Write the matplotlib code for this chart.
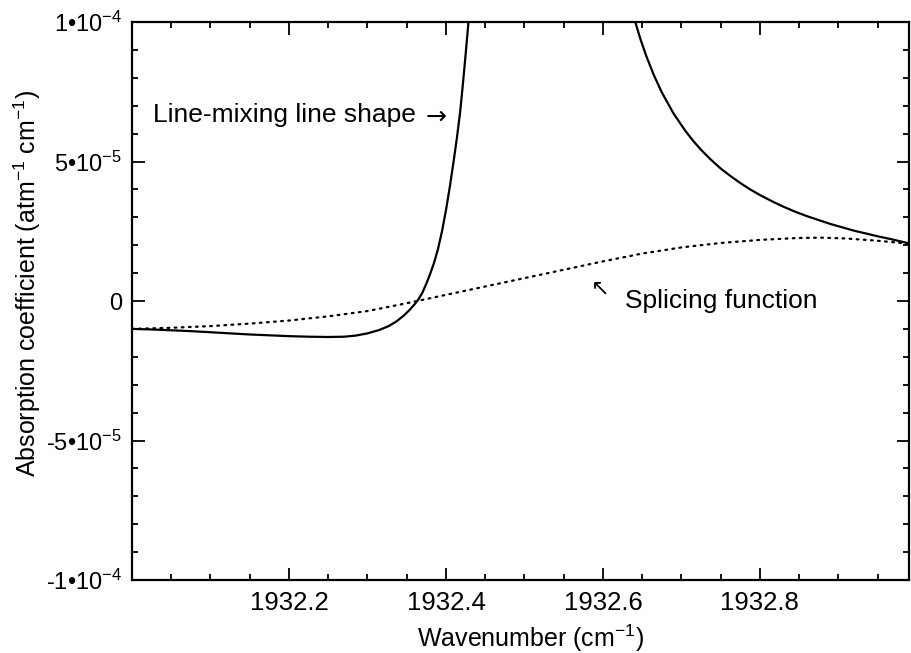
import numpy as np
import matplotlib
matplotlib.use("Agg")
import matplotlib.pyplot as plt
from matplotlib.ticker import MultipleLocator, FixedLocator, FixedFormatter

plt.rcParams['font.family'] = ['Liberation Sans', 'DejaVu Sans']
plt.rcParams['mathtext.fontset'] = 'custom'
plt.rcParams['mathtext.rm'] = 'Liberation Sans'
plt.rcParams['mathtext.it'] = 'Liberation Sans:italic'
plt.rcParams['mathtext.bf'] = 'Liberation Sans:bold'

# datos (x - 1932 en cm^-1, y en unidades de 1e-5 atm^-1 cm^-1)
mix_left_x = [0.000, 0.025, 0.050, 0.075, 0.100, 0.125, 0.150, 0.175, 0.200, 0.225,
              0.250, 0.270, 0.285, 0.300, 0.315, 0.327, 0.337, 0.346, 0.354, 0.360,
              0.365, 0.370, 0.375, 0.380, 0.385, 0.390, 0.395, 0.400, 0.405, 0.410,
              0.414, 0.418, 0.421, 0.424, 0.427, 0.429, 0.431]
mix_left_y = [-1.00, -1.02, -1.05, -1.08, -1.12, -1.16, -1.20, -1.23, -1.26, -1.28,
              -1.29, -1.28, -1.24, -1.16, -1.04, -0.90, -0.73, -0.53, -0.31, -0.12,
              0.06, 0.30, 0.62, 0.98, 1.38, 1.88, 2.50, 3.25, 4.10, 5.05,
              5.85, 6.75, 7.60, 8.50, 9.45, 10.10, 10.80]

mix_right_x = [0.636, 0.641, 0.648, 0.655, 0.665, 0.675, 0.690, 0.705, 0.715, 0.725,
               0.737, 0.750, 0.762, 0.775, 0.787, 0.800, 0.815, 0.830, 0.845, 0.860,
               0.875, 0.890, 0.905, 0.920, 0.935, 0.950, 0.965, 0.991]
mix_right_y = [10.54, 10.02, 9.37, 8.80, 8.09, 7.48, 6.72, 6.10, 5.74, 5.42,
               5.08, 4.75, 4.49, 4.23, 4.01, 3.80, 3.58, 3.38, 3.20, 3.04,
               2.90, 2.76, 2.64, 2.52, 2.42, 2.32, 2.23, 2.06]

splice_x = [0.00, 0.05, 0.10, 0.15, 0.20, 0.25, 0.30, 0.35, 0.40, 0.45, 0.50,
            0.55, 0.60, 0.65, 0.70, 0.75, 0.80, 0.85, 0.88, 0.91, 0.95, 0.991]
splice_y = [-1.00, -0.96, -0.90, -0.81, -0.70, -0.55, -0.36, -0.08, 0.22, 0.52, 0.82,
            1.12, 1.42, 1.70, 1.92, 2.08, 2.19, 2.26, 2.27, 2.24, 2.16, 2.05]

x0 = 1932.0
ytick_vals = [-1e-4, -5e-5, 0, 5e-5, 1e-4]
ytick_labels = ['-1\u202210$^{-4}$', '-5\u202210$^{-5}$', '0',
                '5\u202210$^{-5}$', '1\u202210$^{-4}$']
xtick_vals = [1932.2, 1932.4, 1932.6, 1932.8]
xtick_labels = ['1932.2', '1932.4', '1932.6', '1932.8']

fig = plt.figure(figsize=(9.11, 6.53), dpi=100)
ax = fig.add_axes([132 / 911, 1 - 580 / 653, 777 / 911, 558 / 653])

ax.plot(x0 + np.array(mix_left_x), np.array(mix_left_y) * 1e-5, color='black', lw=1.6)
ax.plot(x0 + np.array(mix_right_x), np.array(mix_right_y) * 1e-5, color='black', lw=1.6)
ax.plot(x0 + np.array(splice_x), np.array(splice_y) * 1e-5, color='black', lw=1.6,
        linestyle=(0, (0.8, 2.4)), dash_capstyle='round')

ax.set_xlim(1932.0, 1932.99)
ax.set_ylim(-1e-4, 1e-4)

ax.xaxis.set_major_locator(FixedLocator(xtick_vals))
ax.xaxis.set_major_formatter(FixedFormatter(xtick_labels))
ax.xaxis.set_minor_locator(MultipleLocator(0.05))
ax.yaxis.set_major_locator(FixedLocator(ytick_vals))
ax.yaxis.set_major_formatter(FixedFormatter(ytick_labels))
ax.yaxis.set_minor_locator(MultipleLocator(1e-5))

ax.tick_params(which='both', direction='in', top=True, right=True, width=1.3)
ax.tick_params(which='major', length=9)
ax.tick_params(which='minor', length=4.5)
ax.tick_params(axis='x', which='major', pad=8, labelsize=18.5)
ax.tick_params(axis='y', which='major', pad=7, labelsize=17)
for s in ax.spines.values():
    s.set_linewidth(1.6)

ax.set_xlabel('Wavenumber (cm$^{-1}$)', fontsize=18)
ax.xaxis.set_label_coords(0.513, -0.077)
ax.set_ylabel('Absorption coefficient (atm$^{-1}$ cm$^{-1}$)', fontsize=18)
ax.yaxis.set_label_coords(-0.114, 0.532)

ax.text(1932.027, 6.68e-5, 'Line-mixing line shape', fontsize=19,
        va='center', ha='left')
ax.text(1932.387, 6.6e-5, '\u2192', fontsize=18, va='center', ha='center',
        family='DejaVu Sans')
ax.text(1932.628, 0.0, 'Splicing function', fontsize=19, va='center', ha='left')
ax.text(1932.596, 0.45e-5, '\u2196', fontsize=16, va='center', ha='center',
        family='DejaVu Sans')

fig.savefig('out.png', dpi=100)
